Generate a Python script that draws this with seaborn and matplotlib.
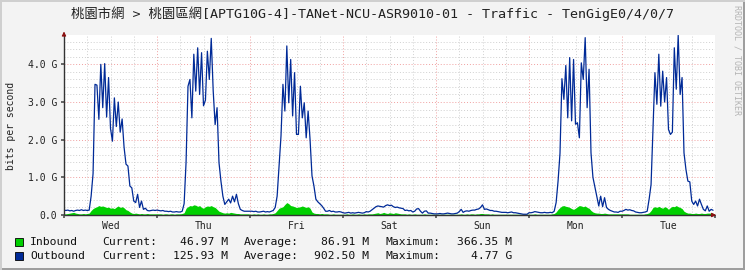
import numpy as np
import pandas as pd
import matplotlib
matplotlib.use("Agg")
import matplotlib.pyplot as plt
from matplotlib.patches import Rectangle
from matplotlib.ticker import FixedLocator, FuncFormatter
import seaborn as sns

# ---------------- data (Gbit/s, 30-minute samples, Wed 00:00 -> Tue 24:00) -------------
days = ["Wed", "Thu", "Fri", "Sat", "Sun", "Mon", "Tue"]

out_wed = [0.13,0.12,0.13,0.11,0.12,0.10,0.12,0.13,0.12,0.14,0.12,0.13,0.12,0.13,
           0.50,1.10,3.47,3.45,2.54,4.00,2.85,4.02,2.60,3.65,
           2.30,1.96,3.11,2.35,3.00,2.20,2.55,1.80,1.35,1.30,
           0.77,0.72,0.37,0.33,0.55,0.20,0.37,0.15,0.18,0.12,
           0.11,0.12,0.13,0.12]
out_thu = [0.13,0.12,0.11,0.12,0.10,0.10,0.09,0.10,0.08,0.08,0.09,0.08,0.08,0.10,
           0.30,1.40,3.42,3.60,2.58,4.27,3.29,4.44,3.20,4.31,
           2.90,3.05,4.35,3.60,4.69,3.30,2.40,2.85,1.39,0.90,
           0.50,0.28,0.35,0.42,0.32,0.50,0.35,0.55,0.30,0.15,
           0.12,0.10,0.10,0.10]
out_fri = [0.10,0.10,0.09,0.10,0.08,0.08,0.09,0.10,0.08,0.09,0.08,0.10,
           0.12,0.20,0.50,1.30,2.10,3.47,2.76,4.49,2.98,4.13,
           2.63,3.78,2.14,2.14,3.42,2.58,2.98,2.05,2.76,2.00,
           1.04,0.77,0.42,0.35,0.30,0.25,0.18,0.10,
           0.10,0.12,0.09,0.10,0.08,0.08,0.09,0.08]
out_sat = [0.06,0.05,0.06,0.07,0.05,0.06,0.05,0.06,0.07,0.06,0.05,0.06,
           0.09,0.08,0.10,0.14,0.18,0.22,0.24,0.23,0.22,0.21,
           0.25,0.27,0.25,0.26,0.22,0.20,0.21,0.19,0.18,0.17,
           0.12,0.13,0.11,0.12,0.08,0.10,0.16,0.17,
           0.10,0.05,0.10,0.11,0.05,0.05,0.04,0.03]
out_sun = [0.03,0.03,0.04,0.03,0.03,0.04,0.05,0.04,0.03,0.03,0.04,0.05,
           0.09,0.15,0.07,0.10,0.11,0.10,0.12,0.13,0.13,0.15,
           0.16,0.20,0.27,0.15,0.16,0.14,0.12,0.12,0.10,0.10,
           0.09,0.08,0.07,0.07,0.07,0.06,0.07,0.08,
           0.06,0.06,0.05,0.04,0.03,0.02,0.02,0.02]
out_mon = [0.06,0.06,0.07,0.09,0.08,0.07,0.06,0.06,0.07,0.06,0.06,0.07,0.06,0.10,
           0.33,0.90,1.64,3.62,3.07,3.97,2.58,4.18,2.50,4.13,
           2.41,2.45,2.05,4.04,3.60,4.71,2.85,3.87,1.65,1.00,
           0.75,0.50,0.24,0.50,0.22,0.46,0.20,0.15,0.12,0.10,
           0.08,0.08,0.07,0.10]
out_tue = [0.10,0.12,0.15,0.13,0.14,0.12,0.11,0.08,0.07,0.06,0.06,0.07,0.08,0.10,
           0.42,0.81,2.27,3.78,2.94,4.27,2.89,3.82,3.00,3.65,
           2.27,2.14,2.20,4.44,3.34,4.77,3.20,3.65,1.65,1.21,
           0.90,0.88,0.37,0.28,0.37,0.24,0.42,0.28,0.15,0.11,
           0.24,0.10,0.15,0.126]

in_wed = [0.03,0.03,0.04,0.05,0.06,0.07,0.05,0.04,0.03,0.03,0.04,0.03,0.04,0.05,
          0.12,0.17,0.20,0.22,0.25,0.23,0.24,0.22,0.20,0.21,
          0.18,0.19,0.17,0.21,0.24,0.20,0.22,0.19,0.14,0.12,
          0.08,0.05,0.04,0.05,0.04,0.03,0.04,0.03,0.03,0.04,
          0.03,0.03,0.03,0.03]
in_thu = [0.03,0.03,0.03,0.02,0.03,0.03,0.02,0.03,0.03,0.02,0.03,0.03,0.03,0.04,
          0.06,0.18,0.22,0.25,0.24,0.27,0.26,0.23,0.25,0.20,
          0.18,0.22,0.24,0.23,0.25,0.22,0.20,0.15,0.10,0.08,
          0.06,0.05,0.06,0.05,0.07,0.06,0.05,0.04,0.04,0.03,
          0.03,0.03,0.03,0.03]
in_fri = [0.02,0.02,0.03,0.02,0.03,0.02,0.02,0.03,0.02,0.02,0.03,0.03,0.04,0.06,
          0.12,0.18,0.20,0.22,0.28,0.33,0.30,0.25,0.24,0.22,
          0.20,0.21,0.22,0.24,0.22,0.20,0.22,0.18,0.08,0.05,
          0.04,0.04,0.03,0.04,0.03,0.03,0.03,0.02,0.02,0.03,
          0.02,0.02,0.02,0.02]
in_sat = [0.02,0.02,0.03,0.02,0.02,0.03,0.02,0.02,0.03,0.02,0.02,0.03,0.02,0.03,
          0.03,0.03,0.04,0.05,0.06,0.04,0.05,0.07,0.05,0.04,
          0.06,0.05,0.04,0.06,0.05,0.04,0.03,0.03,0.03,0.02,
          0.03,0.02,0.02,0.03,0.02,0.02,0.02,0.02,0.03,0.02,
          0.02,0.02,0.02,0.02]
in_sun = [0.02,0.02,0.02,0.02,0.02,0.02,0.02,0.02,0.02,0.02,0.02,0.02,0.02,0.03,
          0.02,0.02,0.03,0.02,0.03,0.03,0.02,0.03,0.03,0.04,
          0.04,0.03,0.03,0.03,0.02,0.03,0.02,0.02,0.02,0.02,
          0.02,0.02,0.02,0.02,0.02,0.02,0.02,0.02,0.02,0.02,
          0.02,0.02,0.02,0.02]
in_mon = [0.02,0.02,0.02,0.03,0.02,0.02,0.02,0.02,0.02,0.02,0.02,0.02,0.03,0.04,
          0.08,0.15,0.20,0.24,0.25,0.23,0.22,0.20,0.17,0.15,
          0.18,0.22,0.25,0.24,0.22,0.24,0.20,0.18,0.12,0.08,
          0.06,0.05,0.05,0.04,0.04,0.05,0.04,0.03,0.03,0.03,
          0.03,0.03,0.03,0.03]
in_tue = [0.03,0.03,0.03,0.03,0.02,0.02,0.02,0.02,0.02,0.02,0.02,0.02,0.03,0.04,
          0.06,0.12,0.20,0.22,0.20,0.23,0.20,0.18,0.22,0.20,
          0.15,0.20,0.23,0.22,0.25,0.22,0.20,0.17,0.10,0.07,
          0.05,0.05,0.04,0.04,0.05,0.04,0.04,0.05,0.04,0.04,
          0.05,0.05,0.05,0.047]

ytick_vals = [0, 1, 2, 3, 4]
ytick_labels = ["0.0", "1.0 G", "2.0 G", "3.0 G", "4.0 G"]

title = "桃園市網 > 桃園區網[APTG10G-4]-TANet-NCU-ASR9010-01 - Traffic - TenGigE0/4/0/7"
legend_rows = [
    ("Inbound", "46.97 M", "86.91 M", "366.35 M", "#00CF00"),
    ("Outbound", "125.93 M", "902.50 M", "4.77 G", "#002A97"),
]

# ---------------- assemble ---------------------------------------------------------------
outbound = np.concatenate([out_wed, out_thu, out_fri, out_sat, out_sun, out_mon, out_tue])
inbound = np.concatenate([in_wed, in_thu, in_fri, in_sat, in_sun, in_mon, in_tue])
t = np.arange(len(outbound)) * 0.5 / 24.0  # days since Wed 00:00
df = pd.DataFrame({"t": t, "inbound": inbound, "outbound": outbound})

W, H = 745, 270
MONO = ["DejaVu Sans Mono", "Noto Sans CJK TC"]

sns.set_theme(style="white")
plt.rcParams["font.family"] = MONO

fig = plt.figure(figsize=(W / 100, H / 100), dpi=100)
fig.patch.set_facecolor("#F3F3F3")

def fx(x):
    return x / W

def fy(y):
    return 1 - y / H

ax = fig.add_axes([fx(64), 55 / H, 651 / W, 180 / H])
ax.set_facecolor("white")

# inbound area + outbound line
ax.fill_between(df["t"], 0, df["inbound"], color="#00CF00", lw=0, zorder=3)
sns.lineplot(data=df, x="t", y="outbound", ax=ax, color="#002A97", lw=0.9, zorder=4)

ax.set_xlim(0, 7)
ax.set_ylim(0, 4.78)

# grid
ax.set_xticks(np.arange(0, 8, 1))
ax.xaxis.set_minor_locator(FixedLocator(np.arange(0.25, 7, 0.25)))
ax.set_yticks(ytick_vals)
ax.set_yticklabels(ytick_labels)
ax.yaxis.set_minor_locator(FixedLocator(np.arange(0.2, 4.8, 0.2)))
ax.grid(which="major", color="#F0A0A0", lw=0.7, ls=(0, (1, 2)), zorder=1)
ax.grid(which="minor", color="#CFCFCF", lw=0.7, ls=(0, (1, 2)), zorder=1)
ax.set_axisbelow(True)

def day_fmt(x, pos):
    k = x - np.floor(x)
    if abs(k - 0.5) < 1e-6:
        return days[int(np.floor(x))]
    return ""

ax.xaxis.set_major_formatter(FuncFormatter(lambda x, p: ""))
ax.xaxis.set_minor_formatter(FuncFormatter(day_fmt))
ax.tick_params(axis="x", which="both", length=2, color="#555555", pad=4,
               labelsize=7, labelcolor="#222222", bottom=True)
ax.tick_params(axis="x", which="minor", length=0)
ax.tick_params(axis="y", which="major", length=2, color="#555555", pad=3,
               labelsize=7, labelcolor="#222222", left=True)
ax.tick_params(axis="y", which="minor", length=0)
for lab in ax.get_xticklabels(minor=True) + ax.get_yticklabels():
    lab.set_family(MONO)
ax.set_xlabel("")
ax.set_ylabel("")
for s in ax.spines.values():
    s.set_visible(False)

# axes with arrows
ax.plot([0, 1.0], [0, 0], transform=ax.transAxes, color="#333333", lw=1.0,
        zorder=5, clip_on=False, solid_capstyle="butt")
ax.plot([0, 0], [0, 1.0], transform=ax.transAxes, color="#333333", lw=1.0,
        zorder=5, clip_on=False, solid_capstyle="butt")
ax.annotate("", xy=(1.006, 0), xytext=(0.99, 0), xycoords="axes fraction",
            arrowprops=dict(arrowstyle="-|>", color="#8B1010", lw=0.8,
                            mutation_scale=6), zorder=6, annotation_clip=False)
ax.annotate("", xy=(0, 1.035), xytext=(0, 0.99), xycoords="axes fraction",
            arrowprops=dict(arrowstyle="-|>", color="#8B1010", lw=0.8,
                            mutation_scale=6), zorder=6, annotation_clip=False)

# texts
fig.text(fx(372.5), fy(14), title, ha="center", va="center", fontsize=9.6,
         color="#222222", family=MONO)
fig.text(fx(11), fy(126), "bits per second", rotation=90, ha="center",
         va="center", fontsize=7, color="#222222", family=MONO)
fig.text(fx(737), fy(5), "RRDTOOL / TOBI OETIKER", rotation=270, ha="center",
         va="top", fontsize=6, color="#B4B4B4", family=MONO)

rows_y = [242, 256]
for (name, cur, avg, mx, col), yy in zip(legend_rows, rows_y):
    fig.patches.append(Rectangle((fx(15), fy(yy + 4)), 8 / W, 8 / H,
                                 transform=fig.transFigure, facecolor=col,
                                 edgecolor="black", lw=0.6))
    kw = dict(va="center", fontsize=8.2, color="#111111", family=MONO)
    fig.text(fx(30), fy(yy), name, ha="left", **kw)
    fig.text(fx(102), fy(yy), "Current:", ha="left", **kw)
    fig.text(fx(228), fy(yy), cur, ha="right", **kw)
    fig.text(fx(244), fy(yy), "Average:", ha="left", **kw)
    fig.text(fx(369), fy(yy), avg, ha="right", **kw)
    fig.text(fx(386), fy(yy), "Maximum:", ha="left", **kw)
    fig.text(fx(512), fy(yy), mx, ha="right", **kw)

# frame shading
fig.patches.append(Rectangle((0, 0), 1, 2 / H, transform=fig.transFigure,
                             facecolor="#9E9E9E", edgecolor="none"))
fig.patches.append(Rectangle((1 - 2 / W, 0), 2 / W, 1, transform=fig.transFigure,
                             facecolor="#9E9E9E", edgecolor="none"))
fig.patches.append(Rectangle((0, 1 - 2 / H), 1, 2 / H, transform=fig.transFigure,
                             facecolor="#CFCFCF", edgecolor="none"))
fig.patches.append(Rectangle((0, 0), 2 / W, 1, transform=fig.transFigure,
                             facecolor="#CFCFCF", edgecolor="none"))

fig.savefig("out.png", dpi=100, facecolor=fig.get_facecolor())
